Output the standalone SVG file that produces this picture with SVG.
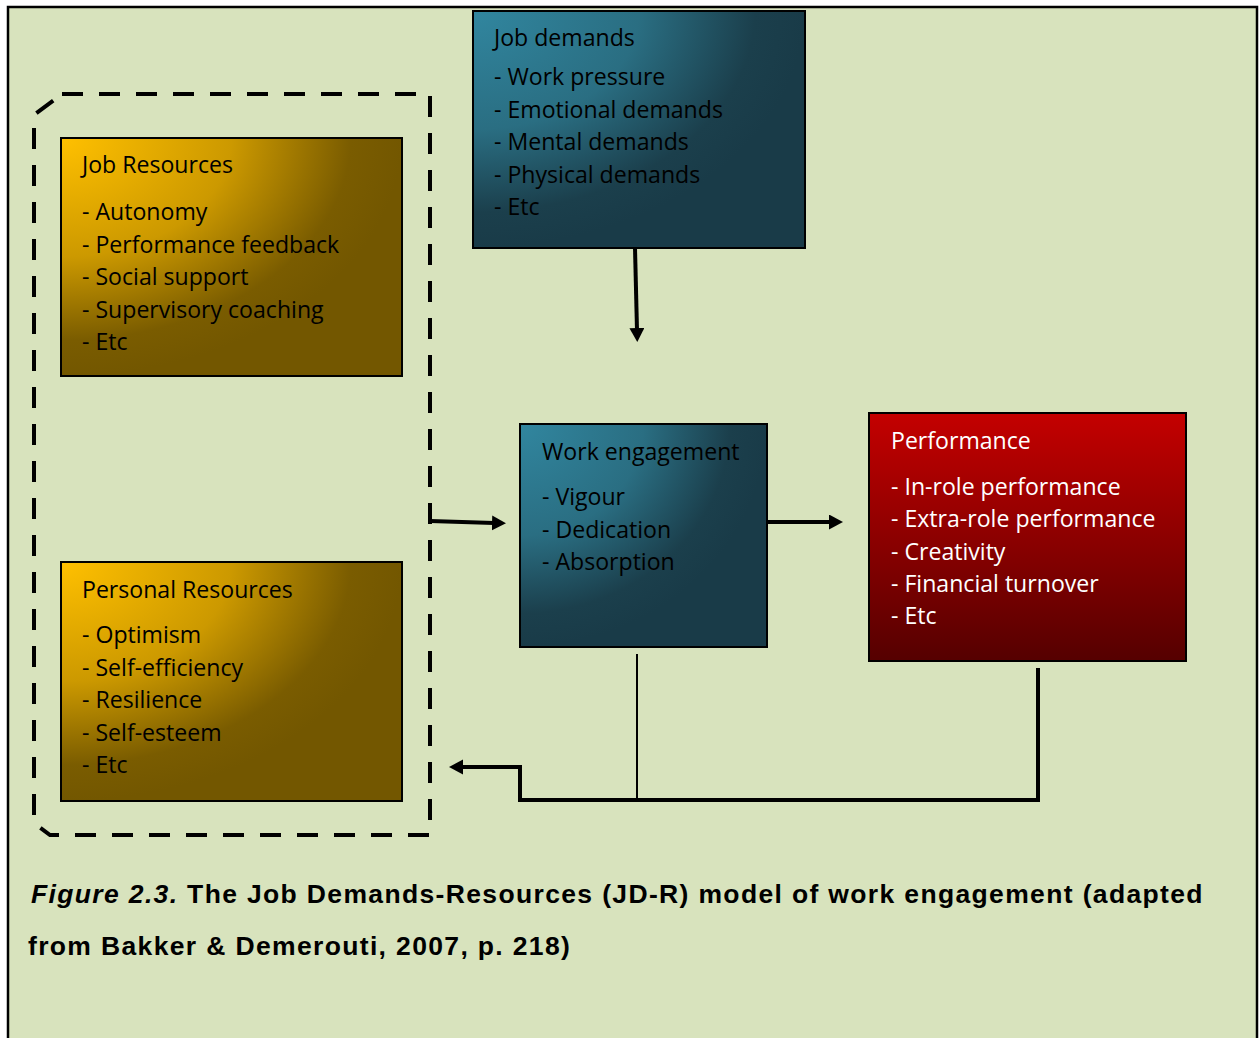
<svg xmlns="http://www.w3.org/2000/svg" width="1259" height="1038" viewBox="0 0 1259 1038">
  <defs>
    <radialGradient id="gold" cx="0" cy="0" r="1" fx="0" fy="0" gradientUnits="objectBoundingBox">
      <stop offset="0" stop-color="#ffc000"/>
      <stop offset="0.5" stop-color="#cc9900"/>
      <stop offset="0.85" stop-color="#7a5c00"/>
      <stop offset="1" stop-color="#735700"/>
    </radialGradient>
    <radialGradient id="teal" cx="0" cy="0" r="1" fx="0" fy="0" gradientUnits="objectBoundingBox">
      <stop offset="0" stop-color="#31869f"/>
      <stop offset="0.5" stop-color="#2a6e82"/>
      <stop offset="0.85" stop-color="#1b3f4c"/>
      <stop offset="1" stop-color="#193b48"/>
    </radialGradient>
    <linearGradient id="red" x1="0" y1="0" x2="0" y2="1">
      <stop offset="0" stop-color="#c40000"/>
      <stop offset="1" stop-color="#550000"/>
    </linearGradient>
    <marker id="head" markerUnits="userSpaceOnUse" markerWidth="16" markerHeight="16" refX="2" refY="7.5" orient="auto">
      <path d="M0,0 L14,7.5 L0,15 z" fill="#000"/>
    </marker>
    <style>
      .box { stroke: #000; stroke-width: 2; }
      .lbl { font-family: "Open Sans", "Noto Sans", sans-serif; font-size: 23.1px; fill: #000; }
      .lbl.light { fill: #fff; }
      .wire { fill: none; stroke: #000; stroke-width: 4; }
      .thin { fill: none; stroke: #000; stroke-width: 2; }
      .cap { font-family: "Liberation Sans", Arial, sans-serif; font-weight: bold; font-size: 26.5px; letter-spacing: 1.35px; fill: #000; }
    </style>
  </defs>

  <!-- page panel -->
  <rect x="0" y="0" width="1259" height="1038" fill="#fff"/>
  <rect x="8" y="7" width="1249" height="1040" fill="#d8e3bd" stroke="#000" stroke-width="2.5"/>

  <!-- resource grouping frame -->
  <path d="M62,94 H430 V835 H50 L34,823 V115 Z" fill="none" stroke="#000" stroke-width="4" stroke-dasharray="21 16"/>

  <g id="job-resources">
    <rect class="box" x="61" y="138" width="341" height="238" fill="url(#gold)"/>
    <text class="lbl" x="82" y="173">Job Resources</text>
    <text class="lbl" x="82" y="220">- Autonomy</text>
    <text class="lbl" x="82" y="253">- Performance feedback</text>
    <text class="lbl" x="82" y="285">- Social support</text>
    <text class="lbl" x="82" y="318">- Supervisory coaching</text>
    <text class="lbl" x="82" y="350">- Etc</text>
  </g>

  <g id="personal-resources">
    <rect class="box" x="61" y="562" width="341" height="239" fill="url(#gold)"/>
    <text class="lbl" x="82" y="598">Personal Resources</text>
    <text class="lbl" x="82" y="643">- Optimism</text>
    <text class="lbl" x="82" y="676">- Self-efficiency</text>
    <text class="lbl" x="82" y="708">- Resilience</text>
    <text class="lbl" x="82" y="741">- Self-esteem</text>
    <text class="lbl" x="82" y="773">- Etc</text>
  </g>

  <g id="job-demands">
    <rect class="box" x="473" y="11" width="332" height="237" fill="url(#teal)"/>
    <text class="lbl" x="494" y="46">Job demands</text>
    <text class="lbl" x="494" y="85">- Work pressure</text>
    <text class="lbl" x="494" y="118">- Emotional demands</text>
    <text class="lbl" x="494" y="150">- Mental demands</text>
    <text class="lbl" x="494" y="183">- Physical demands</text>
    <text class="lbl" x="494" y="215">- Etc</text>
  </g>

  <g id="work-engagement">
    <rect class="box" x="520" y="424" width="247" height="223" fill="url(#teal)"/>
    <text class="lbl" x="542" y="460">Work engagement</text>
    <text class="lbl" x="542" y="505">- Vigour</text>
    <text class="lbl" x="542" y="538">- Dedication</text>
    <text class="lbl" x="542" y="570">- Absorption</text>
  </g>

  <g id="performance">
    <rect class="box" x="869" y="413" width="317" height="248" fill="url(#red)"/>
    <text class="lbl light" x="891" y="449">Performance</text>
    <text class="lbl light" x="891" y="495">- In-role performance</text>
    <text class="lbl light" x="891" y="527">- Extra-role performance</text>
    <text class="lbl light" x="891" y="560">- Creativity</text>
    <text class="lbl light" x="891" y="592">- Financial turnover</text>
    <text class="lbl light" x="891" y="624">- Etc</text>
  </g>

  <g id="connectors">
    <line class="wire" x1="635" y1="248" x2="637" y2="330" marker-end="url(#head)"/>
    <line class="wire" x1="430" y1="521" x2="494" y2="523" marker-end="url(#head)"/>
    <line class="wire" x1="767" y1="522" x2="831" y2="522" marker-end="url(#head)"/>
    <polyline class="wire" points="1038,668 1038,800 520,800 520,767 461,767" marker-end="url(#head)"/>
    <line class="thin" x1="637" y1="654" x2="637" y2="800"/>
  </g>

  <!-- caption -->
  <text class="cap" x="31" y="903"><tspan font-style="italic">Figure 2.3.</tspan> The Job Demands-Resources (JD-R) model of work engagement (adapted</text>
  <text class="cap" x="28" y="955">from Bakker &amp; Demerouti, 2007, p. 218)</text>
</svg>
